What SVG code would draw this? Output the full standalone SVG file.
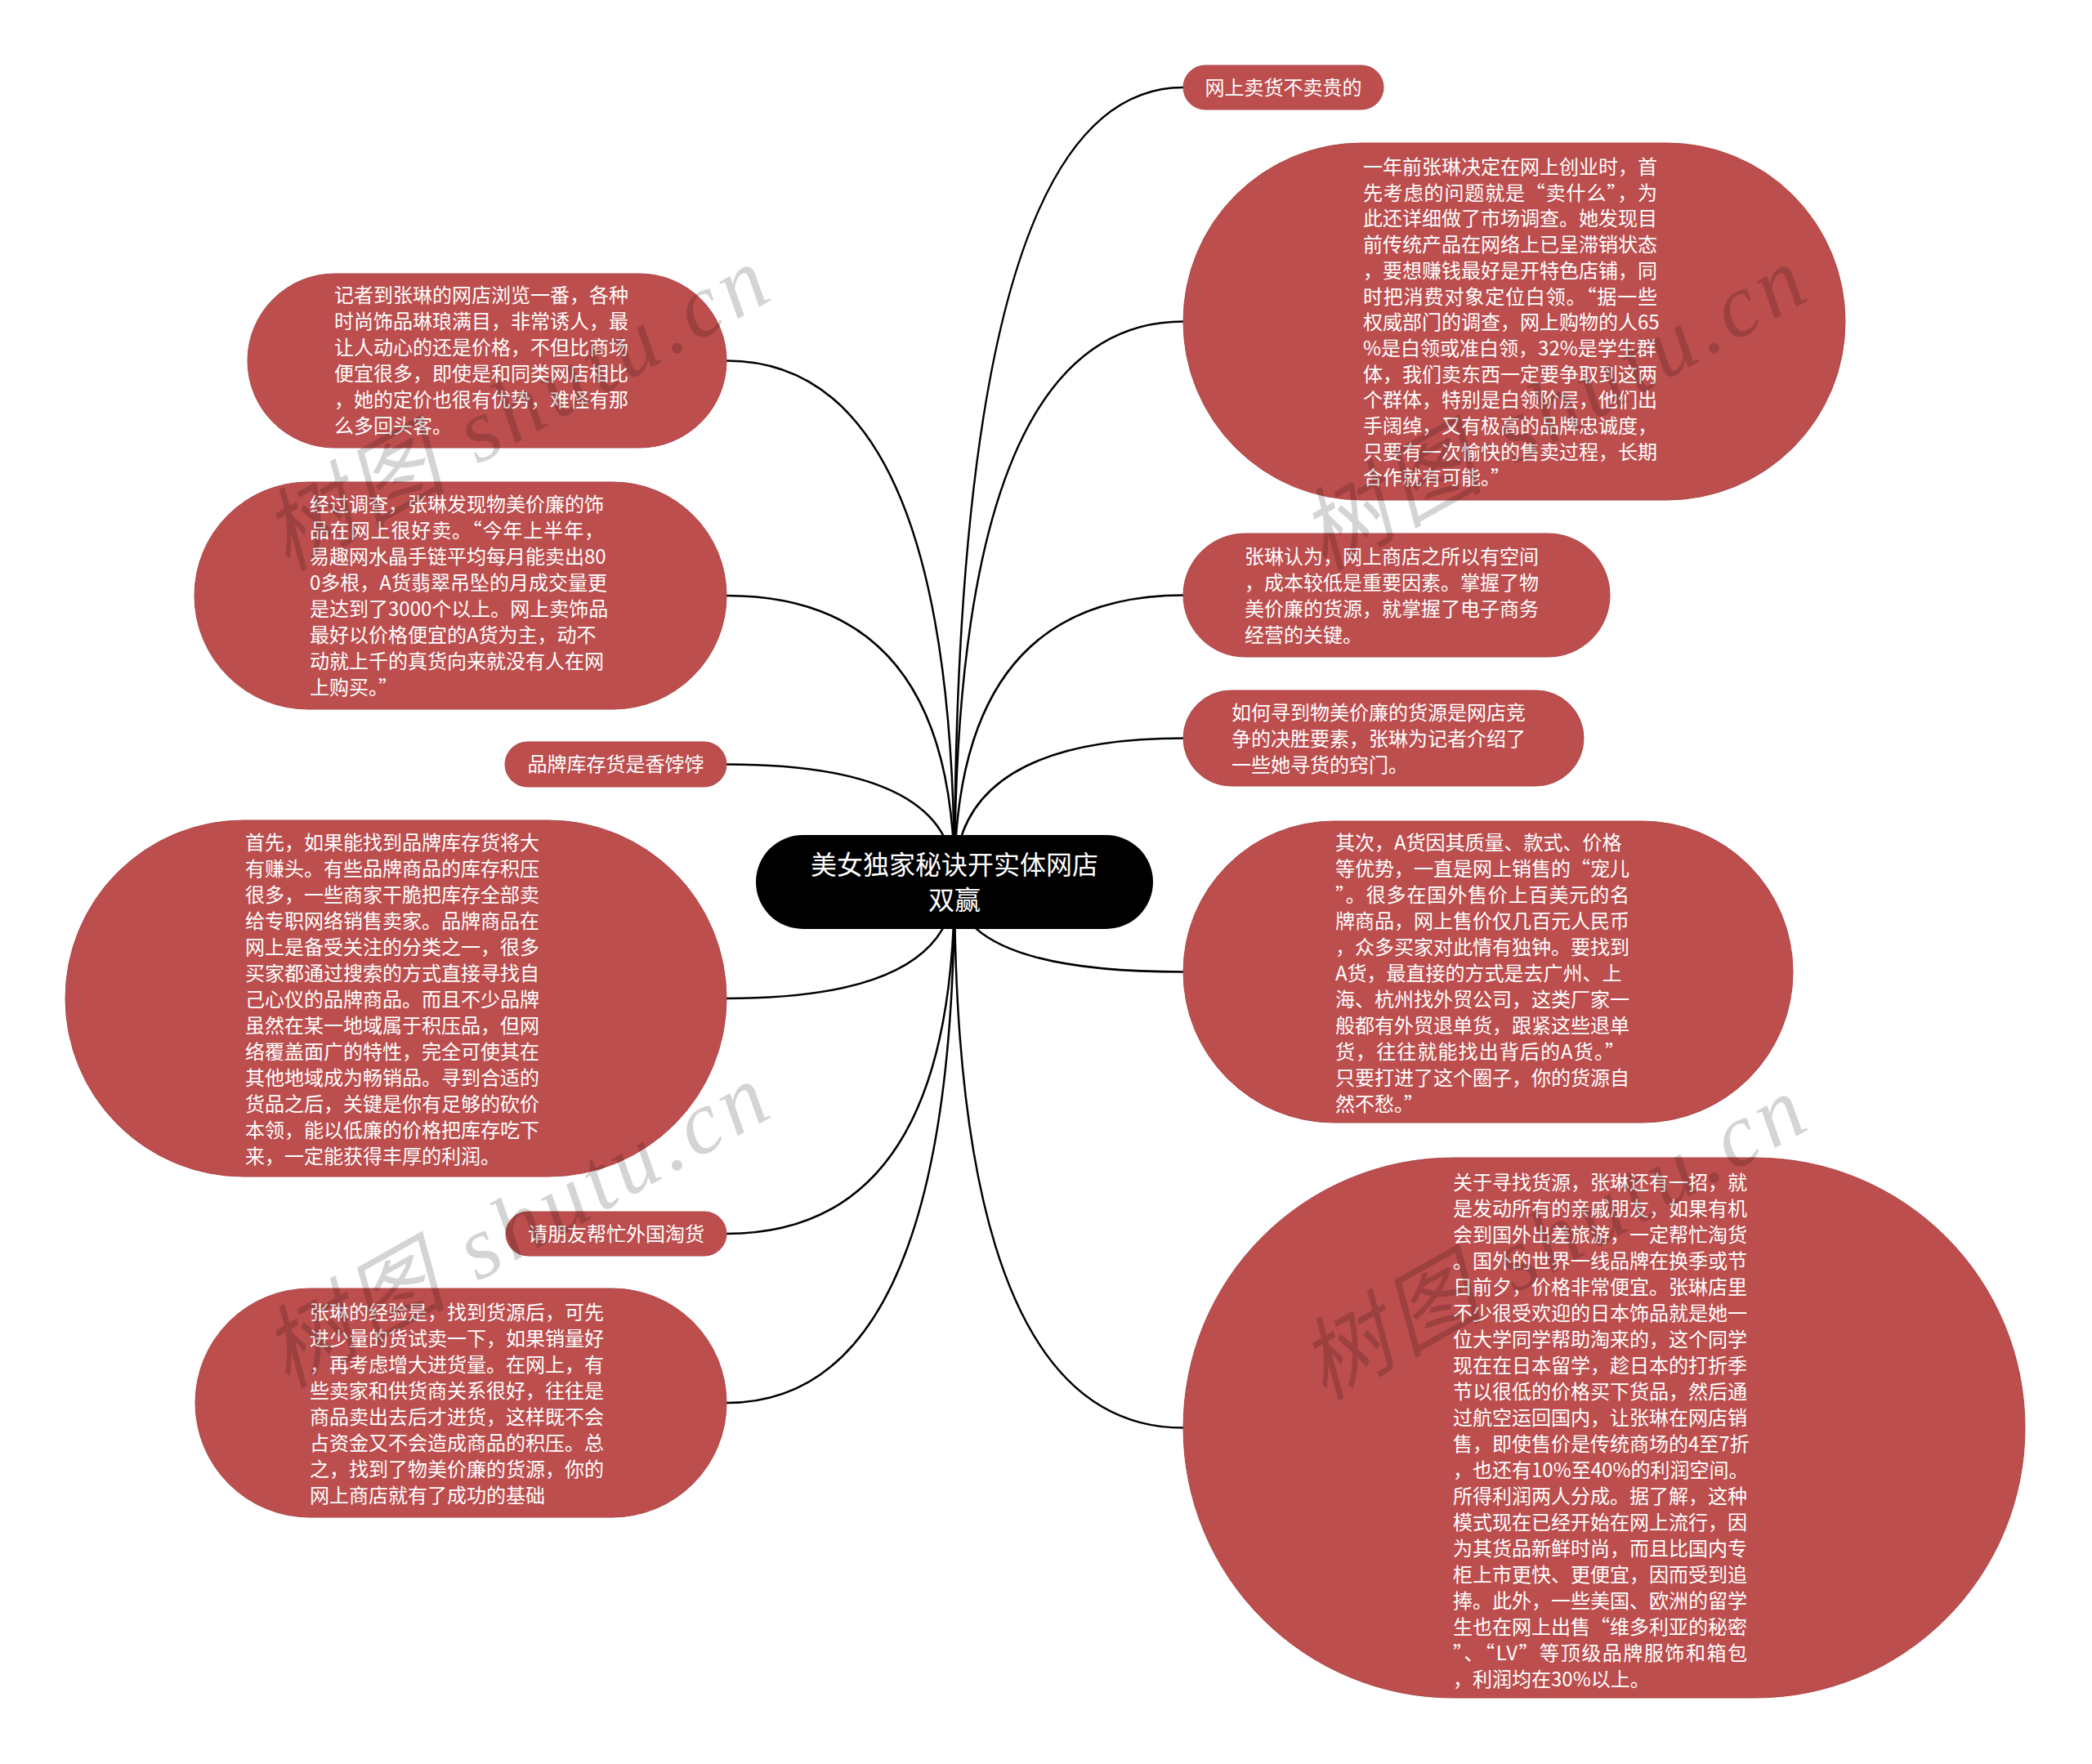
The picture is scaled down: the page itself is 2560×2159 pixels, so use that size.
<svg xmlns="http://www.w3.org/2000/svg" width="2560" height="2159" viewBox="0 0 2560 2159">
<style>
.nb{fill:#BD4E4E;stroke:#AE4545;stroke-width:1}
.t{font-family:"Noto Sans CJK SC","Noto Sans",sans-serif;font-size:24px;fill:#fff}
.tc{font-family:"Noto Sans CJK SC","Noto Sans",sans-serif;font-size:32px;fill:#fff;text-anchor:middle}
.mid{text-anchor:middle}
.link{fill:none;stroke:#000;stroke-width:2.5}
.wm{font-family:"Liberation Serif","Noto Sans CJK SC",serif;font-style:italic;font-size:110px;fill:#000;fill-opacity:0.17}
</style>
<rect x="0" y="0" width="2560" height="2159" fill="#fff"/>
<g id="connectors">
<path class="link" d="M1168,1079 Q1168,107 1448,107"/>
<path class="link" d="M1168,1079 Q1168,393.5 1448,393.5"/>
<path class="link" d="M1168,1079 Q1168,728.5 1448,728.5"/>
<path class="link" d="M1168,1079 Q1168,903.5 1448,903.5"/>
<path class="link" d="M1168,1079 Q1168,1189.5 1448,1189.5"/>
<path class="link" d="M1168,1079 Q1168,1747.5 1448,1747.5"/>
<path class="link" d="M1168,1079 Q1168,441.5 889,441.5"/>
<path class="link" d="M1168,1079 Q1168,729 889,729"/>
<path class="link" d="M1168,1079 Q1168,935.5 889,935.5"/>
<path class="link" d="M1168,1079 Q1168,1222 889,1222"/>
<path class="link" d="M1168,1079 Q1168,1510 889,1510"/>
<path class="link" d="M1168,1079 Q1168,1717 889,1717"/>
</g>
<g id="center">
<rect x="925" y="1022" width="486" height="115" rx="57.5" fill="#000"/>
<text class="tc" x="1168" y="1070">美女独家秘诀开实体网店</text>
<text class="tc" x="1168" y="1113">双赢</text>
</g>
<g id="n-a">
<rect class="nb" x="1448" y="80" width="245" height="54" rx="27"/>
<text class="t mid" x="1570.5" y="116">网上卖货不卖贵的</text>
</g>
<g id="n-b">
<rect class="nb" x="1448" y="175" width="810" height="437" rx="218.5"/>
<text class="t" x="1668" y="213">一年前张琳决定在网上创业时，首</text>
<text class="t" x="1668" y="244.7" textLength="360" lengthAdjust="spacing">先考虑的问题就是“卖什么”，为</text>
<text class="t" x="1668" y="276.4"><tspan x="1668">此还详细做了市场调查。她发现目</tspan><tspan x="1668" dy="31.7">前传统产品在网络上已呈滞销状态</tspan><tspan x="1668" dy="31.7">，要想赚钱最好是开特色店铺，同</tspan></text>
<text class="t" x="1668" y="371.5" textLength="360" lengthAdjust="spacing">时把消费对象定位白领。“据一些</text>
<text class="t" x="1668" y="403.2"><tspan x="1668">权威部门的调查，网上购物的人65</tspan><tspan x="1668" dy="31.7">%是白领或准白领，32%是学生群</tspan><tspan x="1668" dy="31.7">体，我们卖东西一定要争取到这两</tspan><tspan x="1668" dy="31.7">个群体，特别是白领阶层，他们出</tspan><tspan x="1668" dy="31.7">手阔绰，又有极高的品牌忠诚度，</tspan><tspan x="1668" dy="31.7">只要有一次愉快的售卖过程，长期</tspan></text>
<text class="t" x="1668" y="593.4">合作就有可能。”</text>
</g>
<g id="n-c">
<rect class="nb" x="303" y="335" width="586" height="213" rx="106.5"/>
<text class="t" x="409" y="370"><tspan x="409">记者到张琳的网店浏览一番，各种</tspan><tspan x="409" dy="32">时尚饰品琳琅满目，非常诱人，最</tspan><tspan x="409" dy="32">让人动心的还是价格，不但比商场</tspan><tspan x="409" dy="32">便宜很多，即使是和同类网店相比</tspan><tspan x="409" dy="32">，她的定价也很有优势，难怪有那</tspan><tspan x="409" dy="32">么多回头客。</tspan></text>
</g>
<g id="n-d">
<rect class="nb" x="238" y="590" width="651" height="278" rx="139"/>
<text class="t" x="379" y="626">经过调查，张琳发现物美价廉的饰</text>
<text class="t" x="379" y="658" textLength="360" lengthAdjust="spacing">品在网上很好卖。“今年上半年，</text>
<text class="t" x="379" y="690"><tspan x="379">易趣网水晶手链平均每月能卖出80</tspan><tspan x="379" dy="32">0多根，A货翡翠吊坠的月成交量更</tspan><tspan x="379" dy="32">是达到了3000个以上。网上卖饰品</tspan><tspan x="379" dy="32">最好以价格便宜的A货为主，动不</tspan><tspan x="379" dy="32">动就上千的真货向来就没有人在网</tspan></text>
<text class="t" x="379" y="850">上购买。”</text>
</g>
<g id="n-e">
<rect class="nb" x="1448" y="653" width="522" height="151" rx="75.5"/>
<text class="t" x="1523" y="690"><tspan x="1523">张琳认为，网上商店之所以有空间</tspan><tspan x="1523" dy="32">，成本较低是重要因素。掌握了物</tspan><tspan x="1523" dy="32">美价廉的货源，就掌握了电子商务</tspan><tspan x="1523" dy="32">经营的关键。</tspan></text>
</g>
<g id="n-f">
<rect class="nb" x="1448" y="845" width="490" height="117" rx="58.5"/>
<text class="t" x="1507" y="881"><tspan x="1507">如何寻到物美价廉的货源是网店竞</tspan><tspan x="1507" dy="32">争的决胜要素，张琳为记者介绍了</tspan><tspan x="1507" dy="32">一些她寻货的窍门。</tspan></text>
</g>
<g id="n-g">
<rect class="nb" x="618" y="908" width="271" height="55" rx="27.5"/>
<text class="t mid" x="753.5" y="944">品牌库存货是香饽饽</text>
</g>
<g id="n-h">
<rect class="nb" x="80" y="1004" width="809" height="436" rx="218"/>
<text class="t" x="300" y="1040"><tspan x="300">首先，如果能找到品牌库存货将大</tspan><tspan x="300" dy="32">有赚头。有些品牌商品的库存积压</tspan><tspan x="300" dy="32">很多，一些商家干脆把库存全部卖</tspan><tspan x="300" dy="32">给专职网络销售卖家。品牌商品在</tspan><tspan x="300" dy="32">网上是备受关注的分类之一，很多</tspan><tspan x="300" dy="32">买家都通过搜索的方式直接寻找自</tspan><tspan x="300" dy="32">己心仪的品牌商品。而且不少品牌</tspan><tspan x="300" dy="32">虽然在某一地域属于积压品，但网</tspan><tspan x="300" dy="32">络覆盖面广的特性，完全可使其在</tspan><tspan x="300" dy="32">其他地域成为畅销品。寻到合适的</tspan><tspan x="300" dy="32">货品之后，关键是你有足够的砍价</tspan><tspan x="300" dy="32">本领，能以低廉的价格把库存吃下</tspan><tspan x="300" dy="32">来，一定能获得丰厚的利润。</tspan></text>
</g>
<g id="n-i">
<rect class="nb" x="1448" y="1005" width="746" height="369" rx="184.5"/>
<text class="t" x="1634" y="1040">其次，A货因其质量、款式、价格</text>
<text class="t" x="1634" y="1072" textLength="360" lengthAdjust="spacing">等优势，一直是网上销售的“宠儿</text>
<text class="t" x="1634" y="1104" textLength="360" lengthAdjust="spacing">”。很多在国外售价上百美元的名</text>
<text class="t" x="1634" y="1136"><tspan x="1634">牌商品，网上售价仅几百元人民币</tspan><tspan x="1634" dy="32">，众多买家对此情有独钟。要找到</tspan><tspan x="1634" dy="32">A货，最直接的方式是去广州、上</tspan><tspan x="1634" dy="32">海、杭州找外贸公司，这类厂家一</tspan><tspan x="1634" dy="32">般都有外贸退单货，跟紧这些退单</tspan></text>
<text class="t" x="1634" y="1296" textLength="354" lengthAdjust="spacing">货，往往就能找出背后的A货。”</text>
<text class="t" x="1634" y="1328">只要打进了这个圈子，你的货源自</text>
<text class="t" x="1634" y="1360">然不愁。”</text>
</g>
<g id="n-j">
<rect class="nb" x="619" y="1483" width="270" height="54" rx="27"/>
<text class="t mid" x="754" y="1519">请朋友帮忙外国淘货</text>
</g>
<g id="n-k">
<rect class="nb" x="239" y="1577" width="650" height="280" rx="140"/>
<text class="t" x="379" y="1615"><tspan x="379">张琳的经验是，找到货源后，可先</tspan><tspan x="379" dy="32">进少量的货试卖一下，如果销量好</tspan><tspan x="379" dy="32">，再考虑增大进货量。在网上，有</tspan><tspan x="379" dy="32">些卖家和供货商关系很好，往往是</tspan><tspan x="379" dy="32">商品卖出去后才进货，这样既不会</tspan><tspan x="379" dy="32">占资金又不会造成商品的积压。总</tspan><tspan x="379" dy="32">之，找到了物美价廉的货源，你的</tspan><tspan x="379" dy="32">网上商店就有了成功的基础</tspan></text>
</g>
<g id="n-l">
<rect class="nb" x="1448" y="1417" width="1030" height="661" rx="330.5"/>
<text class="t" x="1778" y="1456"><tspan x="1778">关于寻找货源，张琳还有一招，就</tspan><tspan x="1778" dy="32">是发动所有的亲戚朋友，如果有机</tspan><tspan x="1778" dy="32">会到国外出差旅游，一定帮忙淘货</tspan><tspan x="1778" dy="32">。国外的世界一线品牌在换季或节</tspan><tspan x="1778" dy="32">日前夕，价格非常便宜。张琳店里</tspan><tspan x="1778" dy="32">不少很受欢迎的日本饰品就是她一</tspan><tspan x="1778" dy="32">位大学同学帮助淘来的，这个同学</tspan><tspan x="1778" dy="32">现在在日本留学，趁日本的打折季</tspan><tspan x="1778" dy="32">节以很低的价格买下货品，然后通</tspan><tspan x="1778" dy="32">过航空运回国内，让张琳在网店销</tspan><tspan x="1778" dy="32">售，即使售价是传统商场的4至7折</tspan><tspan x="1778" dy="32">，也还有10%至40%的利润空间。</tspan><tspan x="1778" dy="32">所得利润两人分成。据了解，这种</tspan><tspan x="1778" dy="32">模式现在已经开始在网上流行，因</tspan><tspan x="1778" dy="32">为其货品新鲜时尚，而且比国内专</tspan><tspan x="1778" dy="32">柜上市更快、更便宜，因而受到追</tspan><tspan x="1778" dy="32">捧。此外，一些美国、欧洲的留学</tspan></text>
<text class="t" x="1778" y="2000" textLength="360" lengthAdjust="spacing">生也在网上出售“维多利亚的秘密</text>
<text class="t" x="1778" y="2032" textLength="360" lengthAdjust="spacing">”、“LV”等顶级品牌服饰和箱包</text>
<text class="t" x="1778" y="2064">，利润均在30%以上。</text>
</g>
<g id="watermarks">
<text class="wm" x="351" y="700" transform="rotate(-29.3 351 700)" textLength="684" lengthAdjust="spacing">树图 shutu.cn</text>
<text class="wm" x="1620" y="700" transform="rotate(-29.3 1620 700)" textLength="684" lengthAdjust="spacing">树图 shutu.cn</text>
<text class="wm" x="351" y="1700" transform="rotate(-29.3 351 1700)" textLength="684" lengthAdjust="spacing">树图 shutu.cn</text>
<text class="wm" x="1620" y="1715" transform="rotate(-29.3 1620 1715)" textLength="684" lengthAdjust="spacing">树图 shutu.cn</text>
</g>
</svg>
